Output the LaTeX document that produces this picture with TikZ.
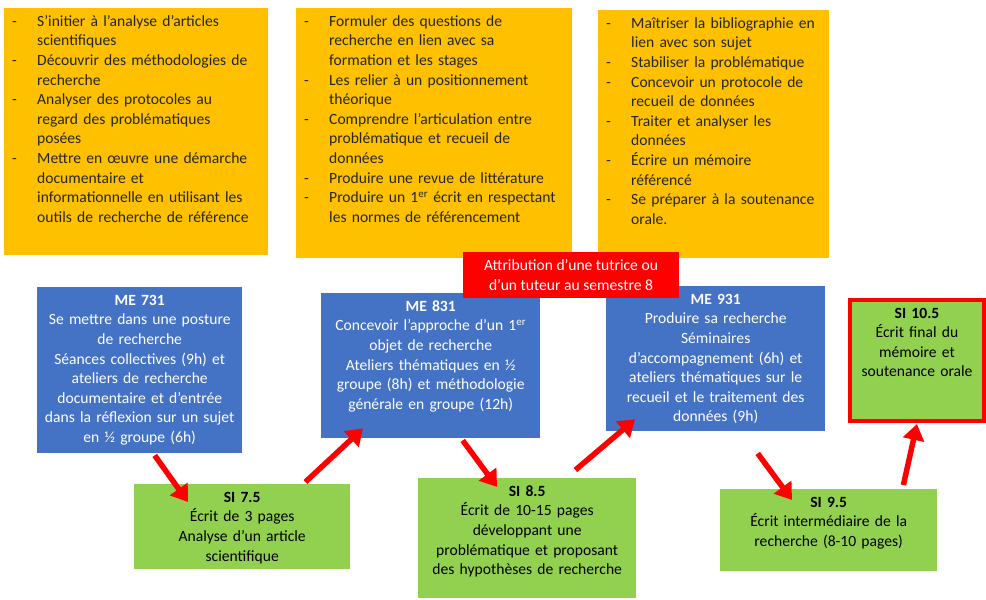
\documentclass[tikz,border=0pt]{standalone}
\usepackage{fontspec}
\setmainfont{Carlito}
\usetikzlibrary{arrows.meta}
\definecolor{jaune}{HTML}{FFC000}
\definecolor{bleu}{HTML}{4472C4}
\definecolor{vert}{HTML}{92D050}
\definecolor{rouge}{HTML}{FF0000}
\newcommand{\puce}[1]{\noindent\hangindent=27pt\hangafter=1\makebox[27pt][l]{\hspace{2pt}-}#1\par}
\begin{document}
\begin{tikzpicture}[x=1pt, y=-1pt,
    font=\fontsize{15.6}{19.6}\selectfont,
    objectif/.style={fill=jaune, text=black!85, anchor=north west, align=left, inner xsep=6pt, inner ysep=6pt, text height=12pt},
    module/.style={fill=bleu, text=white, anchor=north west, align=center, inner xsep=6pt, inner ysep=6pt, text height=12pt},
    ecrit/.style={fill=vert, anchor=north west, align=center, inner xsep=6pt, inner ysep=6pt, text height=12pt},
    fleche/.style={-{Triangle[length=16pt, width=21pt]}, line width=5.5pt, rouge}]
    \useasboundingbox (0,0) rectangle (986,600);
    \node[objectif, text width=252pt, text depth=223pt] (obj7) at (4,8) {%
      \puce{S’initier à l’analyse d’articles\newline scientifiques}%
      \puce{Découvrir des méthodologies de\newline recherche}%
      \puce{Analyser des protocoles au\newline regard des problématiques\newline posées}%
      \puce{Mettre en œuvre une démarche\newline documentaire et\newline informationnelle en utilisant les\newline outils de recherche de référence}};
    \node[objectif, text width=264pt, text depth=226pt] (obj8) at (296,8) {%
      \puce{Formuler des questions de\newline recherche en lien avec sa\newline formation et les stages}%
      \puce{Les relier à un positionnement\newline théorique}%
      \puce{Comprendre l’articulation entre\newline problématique et recueil de\newline données}%
      \puce{Produire une revue de littérature}%
      \puce{Produire un 1\textsuperscript{er} écrit en respectant\newline les normes de référencement}};
    \node[objectif, text width=219pt, text depth=224pt] (obj9) at (598,10) {%
      \puce{Maîtriser la bibliographie en\newline lien avec son sujet}%
      \puce{Stabiliser la problématique}%
      \puce{Concevoir un protocole de\newline recueil de données}%
      \puce{Traiter et analyser les\newline données}%
      \puce{Écrire un mémoire\newline référencé}%
      \puce{Se préparer à la soutenance\newline orale.}};
    \node[module, text width=193pt, text depth=142pt] (me731) at (37,287) {\textbf{ME 731}\\ Se mettre dans une posture\\ de recherche\\ Séances collectives (9h) et\\ ateliers de recherche\\ documentaire et d’entrée\\ dans la réflexion sur un sujet\\ en ½ groupe (6h)};
    \node[module, text width=207pt, text depth=121pt] (me831) at (321,293) {\textbf{ME 831}\\ Concevoir l’approche d’un 1\textsuperscript{er}\\ objet de recherche\\ Ateliers thématiques en ½\\ groupe (8h) et méthodologie\\ générale en groupe (12h)};
    \node[module, text width=207pt, text depth=121pt] (me931) at (606,286) {\textbf{ME 931}\\ Produire sa recherche\\ Séminaires\\ d’accompagnement (6h) et\\ ateliers thématiques sur le\\ recueil et le traitement des\\ données (9h)};
    \node[ecrit, text width=204pt, text depth=61pt] (si75) at (134,484) {\textbf{SI 7.5}\\ Écrit de 3 pages\\ Analyse d’un article\\ scientifique};
    \node[ecrit, text width=206pt, text depth=96pt] (si85) at (418,478) {\textbf{SI 8.5}\\ Écrit de 10-15 pages\\ développant une\\ problématique et proposant\\ des hypothèses de recherche};
    \node[ecrit, text width=205pt, text depth=58pt] (si95) at (720,489) {\textbf{SI 9.5}\\ Écrit intermédiaire de la\\ recherche (8-10 pages)};
    \node[ecrit, draw=rouge, line width=4pt, text width=122pt, text depth=97pt] (si105) at (848,298) {\textbf{SI 10.5}\\ Écrit final du\\ mémoire et\\ soutenance orale};
    \node[fill=rouge, text=white, align=center, minimum width=216pt, minimum height=46pt] (tutorat) at (571,275) {Attribution d’une tutrice ou\\ d’un tuteur au semestre 8};
    \draw[fleche] ([xshift=15pt, yshift=-2pt]me731.south) -- ([xshift=54pt, yshift=-18pt]si75.north west);
    \draw[fleche] ([xshift=-45pt, yshift=2pt]si75.north east) -- ([xshift=42pt, yshift=10pt]me831.south west);
    \draw[fleche] ([xshift=32pt, yshift=-2pt]me831.south) -- ([xshift=79pt, yshift=-9pt]si85.north west);
    \draw[fleche] ([xshift=-61pt, yshift=8pt]si85.north east) -- ([xshift=29pt, yshift=12pt]me931.south west);
    \draw[fleche] ([xshift=42pt, yshift=-22pt]me931.south) -- ([xshift=72pt, yshift=-11pt]si95.north west);
    \draw[fleche] ([xshift=-34pt, yshift=4pt]si95.north east) -- ([yshift=-1pt]si105.south);
  \end{tikzpicture}
\end{document}
